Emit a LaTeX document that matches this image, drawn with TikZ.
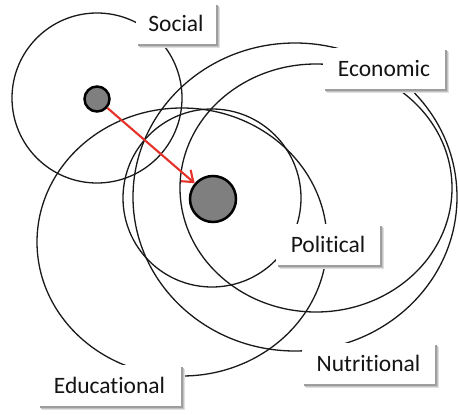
\documentclass[tikz,border=0pt]{standalone}
\usepackage{fontspec}
\setmainfont{Carlito}[Ligatures=NoCommon]
\usetikzlibrary{arrows.meta,shadows}
\definecolor{dotgray}{HTML}{7F7F7F}
\definecolor{arrowred}{HTML}{E5312A}
\definecolor{labeltext}{HTML}{141414}
\begin{document}
\begin{tikzpicture}[x=1pt,y=-1pt,
  ring/.style={draw=black!90, line width=1.3pt},
  dot/.style={circle, draw=black, line width=2.5pt, fill=dotgray, inner sep=0pt},
  lbl/.style={fill=white, inner sep=0pt, minimum height=41pt,
    font=\fontsize{23.5}{28}\selectfont, text=labeltext,
    general shadow={shadow xshift=4pt, shadow yshift=-4pt, fill=black!12},
    general shadow={shadow xshift=3.2pt, shadow yshift=-3.2pt, fill=black!24},
    general shadow={shadow xshift=2.4pt, shadow yshift=-2.4pt, fill=black!38}},
  link/.style={draw=arrowred, line width=2.1pt,
    -{Straight Barb[length=10pt, width=15pt, line width=2.1pt]}}
]
\useasboundingbox (0,0) rectangle (458,415);
\fill[white] (0,0) rectangle (458,415);
% rings
\draw[ring] (97,98) circle [radius=85pt];
\draw[ring] (212,198) circle [radius=89pt];
\draw[ring] (316,188) ellipse [x radius=136pt, y radius=124pt];
\draw[ring] (295,197) ellipse [x radius=162pt, y radius=154pt];
\draw[ring] (182,242) ellipse [x radius=145pt, y radius=134pt];
% dots and arrow
\node[dot, minimum size=25pt] (small) at (97,99) {};
\node[dot, minimum size=46pt] (big) at (213,199) {};
\draw[link] (small) -- (big);
% labels
\node[lbl, minimum width=80pt]  (social) at (176,23) {Social};
\node[lbl, minimum width=122pt] (economic) at (384,68) {Economic};
\node[lbl, minimum width=104pt] (political) at (328,244.5) {Political};
\node[lbl, minimum width=133pt] (nutritional) at (368.5,363.5) {Nutritional};
\node[lbl, minimum width=143pt] (educational) at (109.5,385.5) {Educational};
\end{tikzpicture}
\end{document}
